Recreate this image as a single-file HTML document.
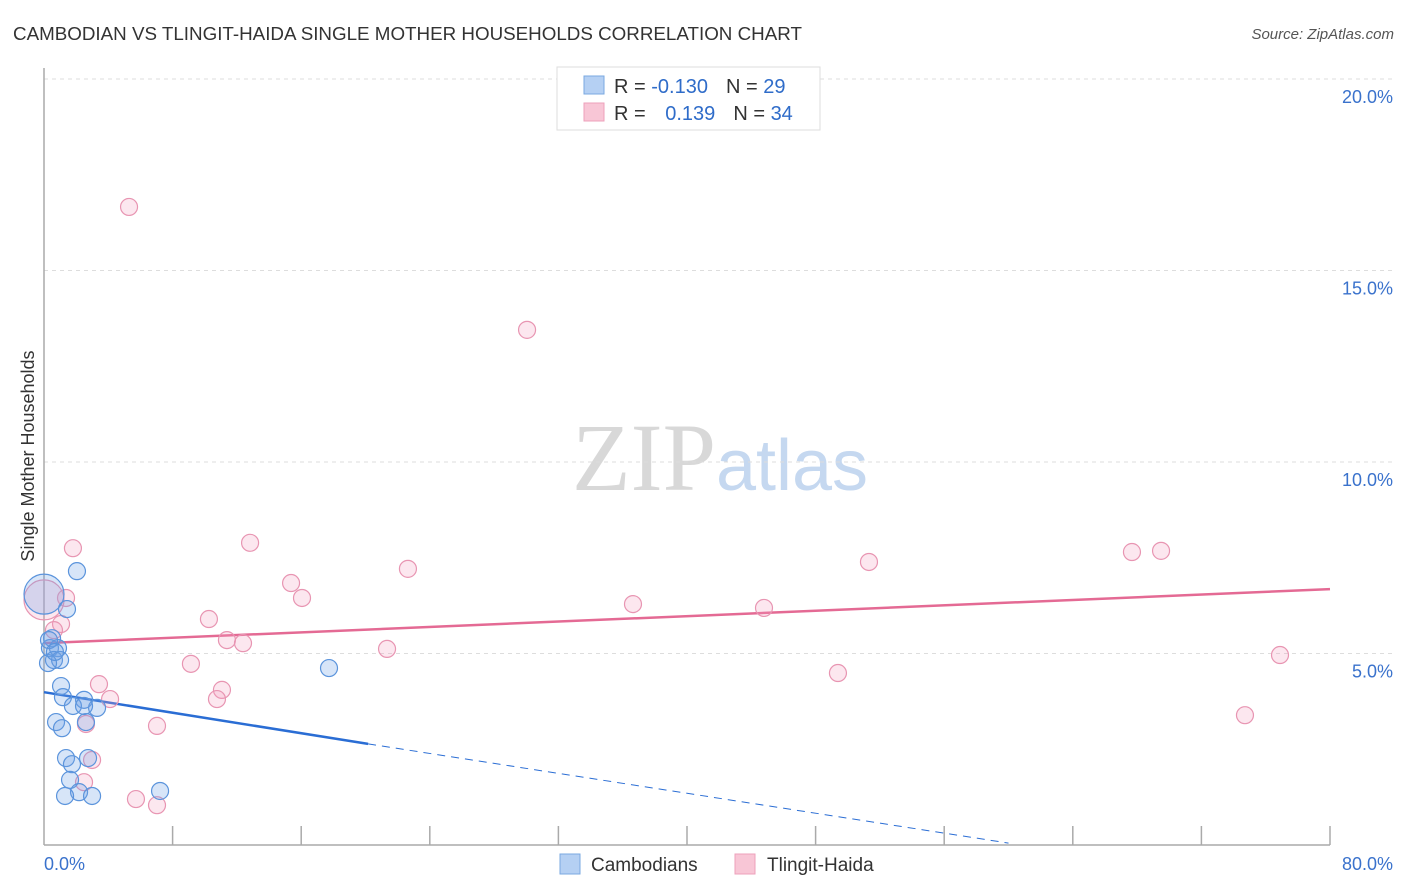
<!DOCTYPE html>
<html><head><meta charset="utf-8">
<style>
body{margin:0;background:#fff;font-family:"Liberation Sans",sans-serif;}
svg{display:block}
</style></head>
<body>
<svg id="chart" width="1406" height="892" viewBox="0 0 1406 892" xmlns="http://www.w3.org/2000/svg">
<text x="13" y="40" font-size="18.8" fill="#333">CAMBODIAN VS TLINGIT-HAIDA SINGLE MOTHER HOUSEHOLDS CORRELATION CHART</text>
<text x="1394" y="39" font-size="15" font-style="italic" fill="#555" text-anchor="end">Source: ZipAtlas.com</text>
<text x="720" y="490" font-size="96" text-anchor="middle" font-family="Liberation Serif,serif"><tspan fill="#d8d8d8">ZIP</tspan><tspan fill="#c5d8f0" font-family="Liberation Sans,sans-serif" font-size="72">atlas</tspan></text>
<text transform="translate(34,456) rotate(-90)" font-size="18" fill="#333" text-anchor="middle">Single Mother Households</text>
<g id="grid"></g>
<g id="axes"></g>
<g id="lines"></g>
<g id="points"></g>
<g>
<rect x="557" y="67" width="263" height="63" fill="#fff" stroke="#ddd"/>
<rect x="584" y="76" width="20" height="18" fill="#b5d0f3" stroke="#7aa8e0"/>
<rect x="584" y="103" width="20" height="18" fill="#f8c6d6" stroke="#eea0bb"/>
<text x="614" y="93" font-size="20" fill="#333">R = <tspan fill="#2f6cc9">-0.130</tspan><tspan dx="18" fill="#333">N = </tspan><tspan fill="#2f6cc9">29</tspan></text>
<text x="614" y="120" font-size="20" fill="#333">R = <tspan dx="14" fill="#2f6cc9">0.139</tspan><tspan dx="18" fill="#333">N = </tspan><tspan fill="#2f6cc9">34</tspan></text>
</g>
<g>
<rect x="560" y="854" width="20" height="20" fill="#b5d0f3" stroke="#7aa8e0"/>
<text x="591" y="871" font-size="19" fill="#333">Cambodians</text>
<rect x="735" y="854" width="20" height="20" fill="#f8c6d6" stroke="#eea0bb"/>
<text x="767" y="871" font-size="19" fill="#333">Tlingit-Haida</text>
</g>
</svg>
<script>
const yTicks=[5,10,15,20];
const yTickLabels=["5.0%","10.0%","15.0%","20.0%"];
const xTicks=[0,8,16,24,32,40,48,56,64,72,80];
const blueX=[0,2.05,1.43,0.50,0.37,0.87,0.62,1.0,0.25,1.06,1.18,2.49,1.80,3.30,2.61,0.75,1.12,1.37,2.74,1.74,1.62,2.18,1.31,2.99,7.22,17.73,2.49,0.31,0.68];
const blueY=[6.55,7.15,6.16,5.40,5.14,5.14,4.83,4.83,4.75,4.15,3.86,3.79,3.63,3.58,3.21,3.21,3.05,2.27,2.27,2.11,1.70,1.38,1.28,1.28,1.41,4.62,3.63,5.35,5.04];
const blueBig=[1,0,0,0,0,0,0,0,0,0,0,0,0,0,0,0,0,0,0,0,0,0,0,0,0,0,0,0,0];
const pinkX=[5.29,30.05,1.80,12.82,22.64,15.37,16.05,1.37,0,10.26,1.06,0.62,11.38,12.38,21.34,9.14,11.07,10.76,3.42,4.11,2.61,7.03,2.99,2.49,5.72,7.03,36.64,44.79,51.32,49.39,67.68,69.49,76.89,74.71];
const pinkY=[16.66,13.45,7.75,7.89,7.21,6.84,6.45,6.45,6.40,5.90,5.77,5.61,5.35,5.27,5.12,4.73,4.05,3.81,4.20,3.81,3.16,3.11,2.22,1.64,1.20,1.04,6.29,6.19,7.39,4.49,7.65,7.68,4.96,3.39];
const pinkBig=[0,0,0,0,0,0,0,0,1,0,0,0,0,0,0,0,0,0,0,0,0,0,0,0,0,0,0,0,0,0,0,0,0,0];
const blueTrend=[3.99,2.64,0.05];
const blueTrendX=[0,20.16,60];
const pinkTrend=[5.27,6.68];
const pinkTrendX=[0,80];

const NS="http://www.w3.org/2000/svg";
const sx=v=>44+v/80*1286;
const sy=v=>845-v*38.3;
function mk(tag,attrs,parent){const e=document.createElementNS(NS,tag);for(const k in attrs)e.setAttribute(k,attrs[k]);parent.appendChild(e);return e;}
const grid=document.getElementById('grid'),axes=document.getElementById('axes'),lines=document.getElementById('lines'),pts=document.getElementById('points');
yTicks.forEach((t,i)=>{
  const l=mk('line',{x1:44,x2:1393,y1:sy(t),y2:sy(t),stroke:'#ddd','stroke-dasharray':'4,4'},grid);
  
  
  const tx=mk('text',{x:1393,y:sy(t)+24,'font-size':18,fill:'#3a72cc','text-anchor':'end'},axes);
  tx.textContent=yTickLabels[i];
  
  
});
const ya=mk('line',{x1:44,x2:44,y1:68,y2:845,stroke:'#aaa','stroke-width':1.5},axes);


const xa=mk('line',{x1:44,x2:1330,y1:845,y2:845,stroke:'#aaa','stroke-width':1.5},axes);


xTicks.forEach(t=>{
  if(t===0)return;
  const l=mk('line',{x1:sx(t),x2:sx(t),y1:826,y2:845,stroke:'#aaa','stroke-width':1.5},axes);
  
  
});
const x0=mk('text',{x:44,y:870,'font-size':18,fill:'#3a72cc'},axes);x0.textContent='0.0%';


const x1=mk('text',{x:1393,y:870,'font-size':18,fill:'#3a72cc','text-anchor':'end'},axes);x1.textContent='80.0%';



function drawPts(X,Y,B,fill,stroke,name){
  X.forEach((x,i)=>{
    const c=mk('circle',{cx:sx(x),cy:sy(Y[i]),r:B[i]?20:8.5,fill:fill,stroke:stroke,'stroke-width':1.2},pts);
    
    
  });
}
drawPts(pinkX,pinkY,pinkBig,'rgba(244,160,190,0.25)','#e895b2','tlingit-haida-point');
drawPts(blueX,blueY,blueBig,'rgba(110,160,230,0.28)','#5b94dc','cambodian-point');

const pl=mk('line',{x1:sx(pinkTrendX[0]),y1:sy(pinkTrend[0]),x2:sx(pinkTrendX[1]),y2:sy(pinkTrend[1]),stroke:'#e46a94','stroke-width':2.5},lines);


const bl=mk('line',{x1:sx(blueTrendX[0]),y1:sy(blueTrend[0]),x2:sx(blueTrendX[1]),y2:sy(blueTrend[1]),stroke:'#2a6dd4','stroke-width':2.5},lines);


const bd=mk('line',{x1:sx(blueTrendX[1]),y1:sy(blueTrend[1]),x2:sx(blueTrendX[2]),y2:sy(blueTrend[2]),stroke:'#2a6dd4','stroke-width':1,'stroke-dasharray':'8,6'},lines);


</script>
</body></html>
